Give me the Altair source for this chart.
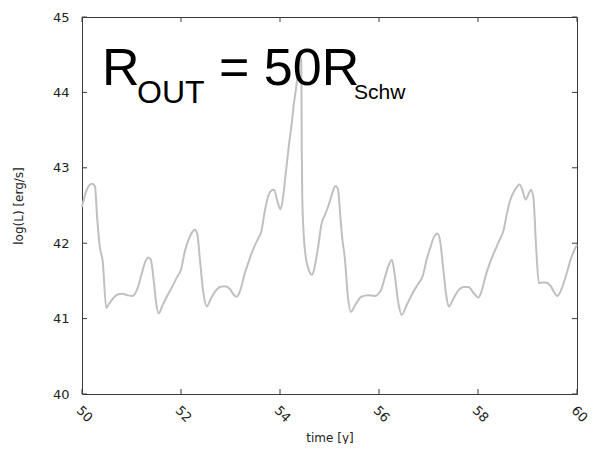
import altair as alt
import pandas as pd

# time [y]
t = [50.00, 50.08, 50.15, 50.21, 50.26, 50.31, 50.36, 50.42, 50.49, 50.55,
     50.63, 50.72, 50.81, 50.92, 51.02, 51.11, 51.20, 51.27, 51.34, 51.39,
     51.45, 51.50, 51.55, 51.63, 51.72, 51.82, 51.92, 52.00, 52.08, 52.15,
     52.22, 52.28, 52.33, 52.38, 52.45, 52.52, 52.60, 52.69, 52.79, 52.89,
     52.99, 53.06, 53.13, 53.20, 53.28, 53.38, 53.46, 53.55, 53.62, 53.70,
     53.76, 53.83, 53.88, 53.95, 54.01, 54.06, 54.12, 54.18, 54.23, 54.28,
     54.33, 54.38, 54.41, 54.43, 54.44, 54.45, 54.48, 54.52, 54.58, 54.65,
     54.71, 54.77, 54.84, 54.91, 54.97, 55.05, 55.12, 55.17, 55.22, 55.26,
     55.31, 55.37, 55.43, 55.52, 55.64, 55.78, 55.91, 56.04, 56.12, 56.19,
     56.26, 56.31, 56.38, 56.46, 56.56, 56.68, 56.78, 56.88, 56.97, 57.04,
     57.11, 57.18, 57.23, 57.30, 57.36, 57.41, 57.50, 57.61, 57.71, 57.81,
     57.90, 58.01, 58.08, 58.15, 58.23, 58.32, 58.42, 58.52, 58.58, 58.65,
     58.74, 58.84, 58.90, 58.96, 59.02, 59.07, 59.12, 59.17, 59.23, 59.30,
     59.36, 59.46, 59.53, 59.60, 59.66, 59.73, 59.80, 59.87, 59.94, 60.00]
# log(L) [erg/s]
logL = [42.48, 42.68, 42.77, 42.79, 42.76, 42.30, 41.95, 41.75, 41.14, 41.20,
        41.27, 41.32, 41.33, 41.31, 41.30, 41.38, 41.58, 41.74, 41.81, 41.78,
        41.50, 41.20, 41.07, 41.18, 41.30, 41.42, 41.55, 41.65, 41.90, 42.04,
        42.14, 42.18, 42.12, 41.80, 41.35, 41.16, 41.26, 41.36, 41.42, 41.43,
        41.39, 41.32, 41.29, 41.38, 41.58, 41.78, 41.92, 42.05, 42.15, 42.45,
        42.62, 42.70, 42.71, 42.55, 42.45, 42.60, 42.95, 43.30, 43.55, 43.85,
        44.08, 44.38, 44.47, 44.40, 43.20, 42.62, 42.10, 41.82, 41.65, 41.58,
        41.72, 41.95, 42.26, 42.38, 42.48, 42.65, 42.76, 42.72, 42.35, 42.05,
        41.80, 41.30, 41.09, 41.18, 41.29, 41.31, 41.30, 41.38, 41.55, 41.70,
        41.78, 41.62, 41.25, 41.05, 41.18, 41.34, 41.45, 41.56, 41.80, 41.95,
        42.08, 42.13, 42.05, 41.65, 41.30, 41.16, 41.26, 41.38, 41.42, 41.42,
        41.35, 41.28, 41.38, 41.56, 41.72, 41.87, 42.02, 42.18, 42.38, 42.57,
        42.70, 42.78, 42.70, 42.58, 42.65, 42.71, 42.60, 42.00, 41.47, 41.48,
        41.48, 41.44, 41.36, 41.30, 41.35, 41.47, 41.62, 41.78, 41.90, 41.98]

x_ticks = [50, 52, 54, 56, 58, 60]
y_ticks = [40, 41, 42, 43, 44, 45]

# annotation pieces: R_OUT = 50R_Schw
label_parts = ["R", "OUT", "= 50R", "Schw"]

W, H = 495, 377
PL = 74
TK = 5
FRAME = "#3a3a3a"
FONT = "DejaVu Sans"

df = pd.DataFrame({"t": t, "L": logL})
xt = pd.DataFrame({"t": x_ticks})
yt = pd.DataFrame({"L": y_ticks})

xs = alt.Scale(domain=[50, 60], nice=False)
ys = alt.Scale(domain=[40, 45], nice=False)

x_axis = alt.Axis(values=x_ticks, tickSize=0, labelAngle=45, labelAlign="left",
                  labelBaseline="middle", labelPadding=14, labelOffset=-4,
                  labelFlush=False, labelOverlap=False, domain=False, grid=False,
                  title="time [y]", titleY=43, titleBaseline="middle")
y_axis = alt.Axis(values=y_ticks, tickSize=0, labelPadding=13, domain=False,
                  grid=False, title="log(L) [erg/s]", titlePadding=27)

X = lambda: alt.X("t:Q", scale=xs, axis=x_axis, title="time [y]")
Y = lambda: alt.Y("L:Q", scale=ys, axis=y_axis, title="log(L) [erg/s]")

line = alt.Chart(df).mark_line(color="#c0c0c0", strokeWidth=2, interpolate="monotone").encode(
    x=X(), y=Y())

rule_kw = dict(color=FRAME, strokeWidth=1)
ytl = alt.Chart(yt).mark_rule(**rule_kw).encode(y=Y(), x=alt.value(0), x2=alt.value(TK))
ytr = alt.Chart(yt).mark_rule(**rule_kw).encode(y=Y(), x=alt.value(W - TK), x2=alt.value(W))
xtb = alt.Chart(xt).mark_rule(**rule_kw).encode(x=X(), y=alt.value(H - TK), y2=alt.value(H))
xtt = alt.Chart(xt).mark_rule(**rule_kw).encode(x=X(), y=alt.value(0), y2=alt.value(TK))

dummy = alt.Data(values=[{}])
txt_font = "Liberation Sans"
def label(text, x, y, size):
    return alt.Chart(dummy).mark_text(
        align="left", baseline="alphabetic", font=txt_font, fontSize=size, color="black"
    ).encode(text=alt.value(text), x=alt.value(x), y=alt.value(y))

t1 = label(label_parts[0], 20, 68, 52)
t2 = label(label_parts[1], 55, 86, 32)
t3 = label(label_parts[2], 137, 68, 52)
t4 = label(label_parts[3], 272, 82, 21)

chart = alt.layer(line, ytl, ytr, xtb, xtt, t1, t2, t3, t4).properties(
    width=W, height=H,
    background="white",
    autosize=alt.AutoSizeParams(type="none"),
    padding={"left": PL, "top": 9, "right": 583 - PL - W, "bottom": 50},
).configure_view(stroke=FRAME, strokeWidth=1).configure_axis(
    labelFont=FONT, labelFontSize=13, labelColor="#222222",
    titleFont=FONT, titleFontSize=12, titleFontWeight="normal", titleColor="#222222",
)

chart.save("out.html", embed_options={"renderer": "svg", "actions": False})
